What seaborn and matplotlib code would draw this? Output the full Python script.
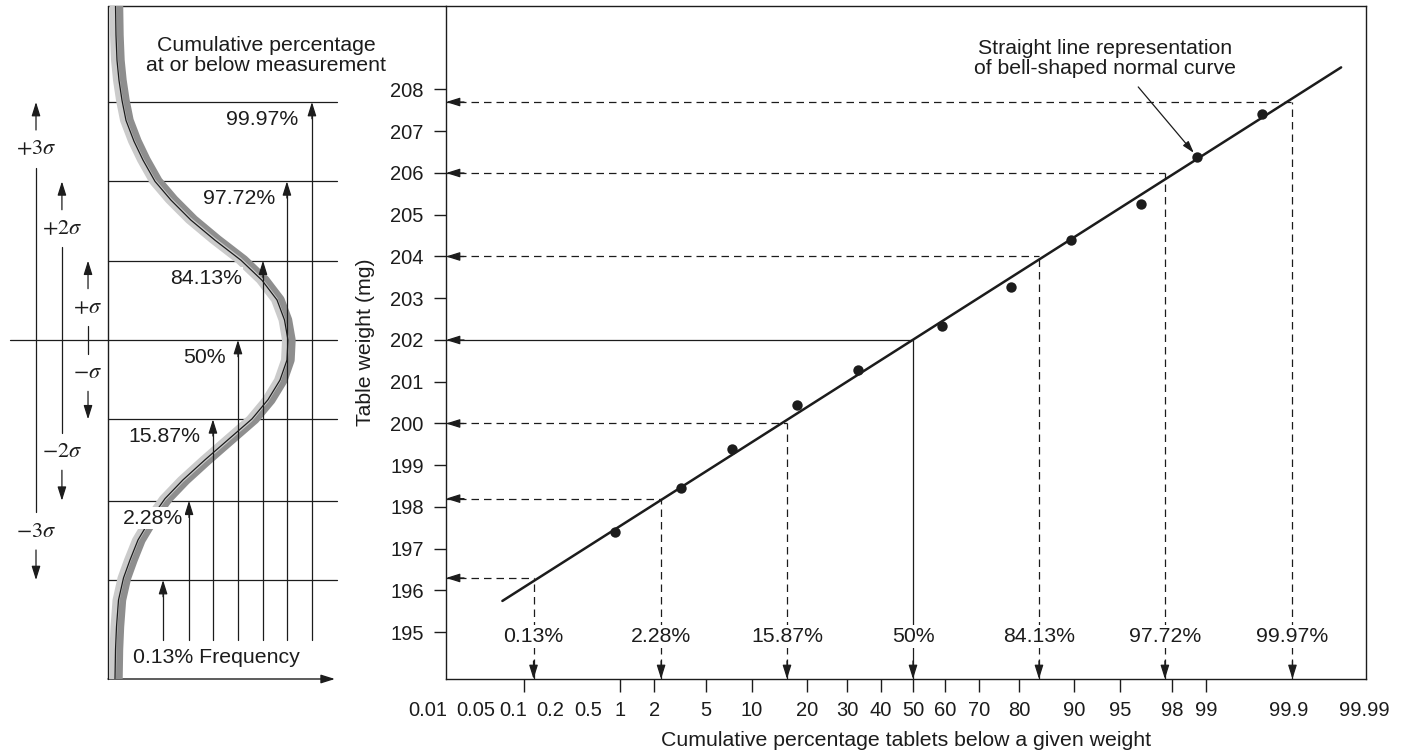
from statistics import NormalDist
import numpy as np
import seaborn as sns
import matplotlib.pyplot as plt
from matplotlib import transforms
from matplotlib.ticker import FixedLocator, FixedFormatter

# tablets: cumulative percentage below a given weight, and the weight (mg)
cum_pct = [0.9, 3.3, 7.6, 17.9, 33.2, 59.1, 78.1, 89.5, 96.5, 98.8, 99.72]
weight_mg = [197.40, 198.45, 199.39, 200.44, 201.28, 202.33, 203.27, 204.39, 205.25, 206.38, 207.41]

# end points of the straight line drawn through the points
line_pct = [0.056, 99.966]
line_mg = [195.75, 208.53]

# -3 sigma .. +3 sigma
sig_pct = [0.13, 2.28, 15.87, 50, 84.13, 97.72, 99.87]
sig_mg = [196.3, 198.2, 200.0, 202.0, 204.0, 206.0, 207.7]
sig_labels = ["0.13%", "2.28%", "15.87%", "50%", "84.13%", "97.72%", "99.97%"]

# probability axis
tick_pct = [0.1, 1, 2, 5, 10, 20, 30, 40, 50, 60, 70, 80, 90, 95, 98, 99]
label_only_pct = [0.2, 0.5]
shifted_pct = [0.01, 0.05, 0.1, 99.9, 99.99]
y_ticks = list(range(195, 209))

# left sketch: bell curve on its side (relative frequency, weight level)
bell_freq = [4.17, 4.44, 5.0, 6.11, 7.78, 10.0, 14.44, 19.44, 26.11, 35.0, 46.11, 59.44, 73.89,
             85.56, 93.89, 98.06, 100.0, 99.44, 95.56, 88.89, 80.0, 66.67, 53.89, 41.67, 31.67,
             23.33, 16.67, 12.22, 8.61, 5.83, 4.72, 4.17, 3.89]
bell_mg = [210.02, 209.30, 208.70, 208.22, 207.74, 207.26, 206.76, 206.31, 205.80, 205.35, 204.87,
           204.39, 203.91, 203.43, 202.96, 202.48, 202.00, 201.52, 201.04, 200.57, 200.11, 199.61,
           199.13, 198.65, 198.20, 197.69, 197.21, 196.73, 196.30, 195.77, 195.13, 194.58, 193.88]
# horizontal rules of the sketch, -3 sigma .. +3 sigma
rule_mg = [196.25, 198.15, 200.1, 202.0, 203.9, 205.8, 207.7]

INK = "#1c1c1c"
FS = 15.3
ARROW = "-|>,head_length=0.7,head_width=0.22"
ND = NormalDist()


def to_z(p):
    p = np.clip(np.asarray(p, dtype=float) / 100.0, 1e-9, 1 - 1e-9)
    return np.vectorize(ND.inv_cdf, otypes=[float])(p)


def from_z(z):
    return 100.0 * np.vectorize(ND.cdf, otypes=[float])(np.asarray(z, dtype=float))


def arrow(axis, tip, tail, lw=1.0, zorder=3, **kw):
    axis.annotate("", xy=tip, xytext=tail, zorder=zorder,
                  arrowprops=dict(arrowstyle=ARROW, color=INK, lw=lw, shrinkA=0, shrinkB=0,
                                  mutation_scale=12), **kw)


sns.set_style("white")
plt.rcParams["font.family"] = ["Liberation Sans", "DejaVu Sans"]
plt.rcParams["mathtext.fontset"] = "stix"
plt.rcParams["text.color"] = INK

fig = plt.figure(figsize=(14.06, 7.54), dpi=100)
ax = fig.add_axes([446 / 1406, 75 / 754, 920 / 1406, 673 / 754])
axl = fig.add_axes([0, 75 / 754, 446 / 1406, 673 / 754])

# ---------------- probability plot ----------------
ax.set_xscale("function", functions=(to_z, from_z))
xlo, xhi = float(from_z(-3.706)), float(from_z(3.595))
ylo, yhi = 193.88, 210.0
ax.set_xlim(xlo, xhi)
ax.set_ylim(ylo, yhi)

sns.lineplot(x=line_pct, y=line_mg, ax=ax, color=INK, lw=1.8, estimator=None, sort=False, zorder=3)
sns.scatterplot(x=cum_pct, y=weight_mg, ax=ax, color=INK, s=56, linewidth=0, zorder=4)

dash = (0, (6, 4))
for p, w, lab in zip(sig_pct, sig_mg, sig_labels):
    ls = "-" if p == 50 else dash
    ax.plot([xlo, p], [w, w], color=INK, lw=0.9, ls=ls, zorder=2)
    ax.plot([p, p], [ylo, w], color=INK, lw=0.9, ls=ls, zorder=2)
    arrow(ax, (xlo, w), (13, 0), lw=0.9, textcoords="offset points")
    arrow(ax, (p, ylo), (0, 13), lw=0.9, textcoords="offset points")
    ax.text(p, 194.9, lab, ha="center", va="center", fontsize=FS, zorder=5,
            bbox=dict(facecolor="white", edgecolor="none", pad=1.5))

ax.annotate("Straight line representation\nof bell-shaped normal curve",
            xy=(cum_pct[9], weight_mg[9]), xytext=(93.6, 208.74), ha="center", va="center",
            fontsize=FS, linespacing=1.1,
            arrowprops=dict(arrowstyle="-|>,head_length=0.6,head_width=0.18", color=INK, lw=0.9,
                            shrinkA=5, shrinkB=4, relpos=(0.6, 0.0), mutation_scale=12))

ax.xaxis.set_major_locator(FixedLocator(tick_pct))
ax.xaxis.set_major_formatter(FixedFormatter(["" if v in shifted_pct else f"{v:g}" for v in tick_pct]))
ax.xaxis.set_minor_locator(FixedLocator(label_only_pct))
ax.xaxis.set_minor_formatter(FixedFormatter([f"{v:g}" for v in label_only_pct]))
ax.tick_params(axis="x", which="major", bottom=True, direction="out", length=9, width=1,
               pad=7, labelsize=14.5, color=INK, labelcolor=INK)
ax.tick_params(axis="x", which="minor", bottom=True, length=0, pad=16, labelsize=14.5,
               labelcolor=INK)
ax.set_yticks(y_ticks)
ax.tick_params(axis="y", left=True, direction="out", length=9, width=1, pad=7, labelsize=14.5,
               color=INK, labelcolor=INK)

shift_px = {0.01: -17, 0.05: -23, 0.1: -10, 99.9: -14, 99.99: -17}
for p in shifted_pct:
    tr = ax.get_xaxis_transform() + transforms.ScaledTranslation(
        shift_px[p] * 0.72 / 72, -16 / 72, fig.dpi_scale_trans)
    ax.text(p, 0, f"{p:g}", transform=tr, ha="center", va="top", fontsize=14.5, clip_on=False)

for s in ax.spines.values():
    s.set_color(INK)
    s.set_linewidth(1.0)

ax.set_xlabel("Cumulative percentage tablets below a given weight", fontsize=FS, color=INK)
ax.set_ylabel("Table weight (mg)", fontsize=FS, color=INK)
ax.xaxis.set_label_coords(0.5, -0.077)
ax.yaxis.set_label_coords(-0.077, 0.5)

# ---------------- sketch of the bell curve ----------------
axl.set_xlim(-60.0, 187.78)
axl.set_ylim(ylo, yhi)
axl.axis("off")
axl.patch.set_visible(False)

axl.plot([0, 0], [ylo, yhi], color=INK, lw=1.0, clip_on=False)
axl.plot([0, 187.78], [yhi, yhi], color=INK, lw=1.0, clip_on=False)
arrow(axl, (126.1, ylo), (0, ylo), lw=1.0)

for i, m in enumerate(rule_mg):
    axl.plot([-54.4 if i == 3 else 0, 127.2], [m, m], color=INK, lw=0.9, zorder=2)

freq_arrow_x = [30.6, 45.0, 58.3, 72.2, 86.1, 99.4, 113.3]
for xf, m in zip(freq_arrow_x, rule_mg):
    axl.plot([xf, xf], [194.82, m - 0.2], color=INK, lw=0.9, zorder=4)
    arrow(axl, (xf, m), (xf, m - 0.4), lw=0.9, zorder=4)

dark = transforms.offset_copy(axl.transData, fig=fig, x=2.5, y=0, units="dots")
light = transforms.offset_copy(axl.transData, fig=fig, x=-2.5, y=0, units="dots")
axl.plot(bell_freq, bell_mg, color="#8e8e8e", lw=7.5, transform=dark, solid_capstyle="butt",
         solid_joinstyle="round", zorder=3)
axl.plot(bell_freq, bell_mg, color="#cbcbcb", lw=5, transform=light, solid_capstyle="butt",
         solid_joinstyle="round", zorder=3)
axl.plot(bell_freq, bell_mg, color=INK, lw=0.9, zorder=3)

label_x = [41.7, 51.1, 65.6, 74.4, 92.8, 105.6]
for xr, m, lab in zip(label_x, rule_mg[1:], sig_labels[1:]):
    axl.text(xr, m - 0.42, lab, ha="right", va="center", fontsize=FS, zorder=5,
             bbox=dict(facecolor="white", edgecolor="none", pad=1.0))
axl.text(13.9, 194.39, "0.13% Frequency", ha="left", va="center", fontsize=FS, zorder=5)

axl.text(87.8, 208.82, "Cumulative percentage\nat or below measurement", ha="center",
         va="center", fontsize=FS, linespacing=1.1)

# sigma ranges on the far left
sig_x = [-11.1, -25.6, -40.0]
sig_off = [0.78, 2.67, 4.58]
gap = 0.45
for k, (xs, off) in enumerate(zip(sig_x, sig_off), start=1):
    up, dn = 202 + off, 202 - off
    name = r"\sigma" if k == 1 else rf"{k}\sigma"
    arrow(axl, (xs, rule_mg[3 + k]), (xs, up + gap), lw=0.9)
    axl.plot([xs, xs], [up - gap, dn + gap], color=INK, lw=0.9)
    arrow(axl, (xs, rule_mg[3 - k]), (xs, dn - gap), lw=0.9)
    axl.text(xs, up, rf"$+{name}$", ha="center", va="center", fontsize=16)
    axl.text(xs, dn, rf"$-{name}$", ha="center", va="center", fontsize=16)

fig.savefig("out.png", dpi=100)
